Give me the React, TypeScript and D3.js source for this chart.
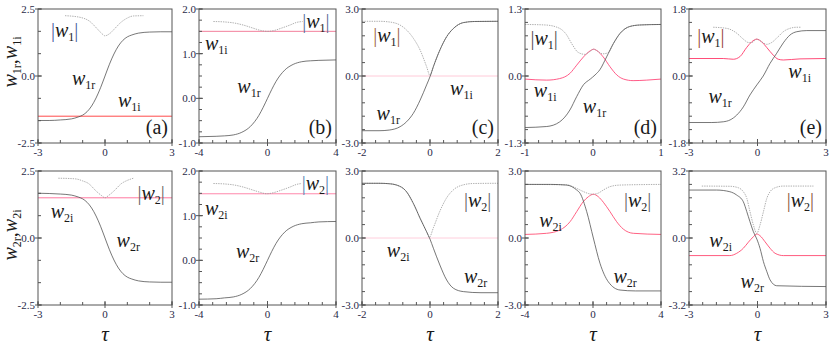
import React from "react";
import * as d3 from "d3";

type Pt = [number, number];

// ---- top row: w1 (real part, imaginary part, modulus) ----
const aW1r: Pt[] = [[-3, -1.66], [-2.5, -1.66], [-2, -1.64], [-1.5, -1.6], [-1.2, -1.53], [-1, -1.46], [-0.8, -1.33], [-0.6, -1.12], [-0.4, -0.82], [-0.2, -0.44], [0, 0], [0.2, 0.44], [0.4, 0.82], [0.6, 1.12], [0.8, 1.33], [1, 1.46], [1.2, 1.53], [1.5, 1.6], [2, 1.64], [2.5, 1.65], [3, 1.65]];
const aW1i: Pt[] = [[-3, -1.5], [3, -1.5]];
const aAbs1: Pt[] = [[-1.79, 2.25], [-1.12, 2.19], [-0.67, 2.03], [-0.37, 1.78], [-0.15, 1.59], [0, 1.5], [0.22, 1.59], [0.45, 1.78], [0.67, 1.97], [0.97, 2.15], [1.27, 2.24], [1.72, 2.25]];

const bW1r: Pt[] = [[-4, -0.86], [-3, -0.85], [-2.5, -0.84], [-2, -0.82], [-1.5, -0.76], [-1, -0.63], [-0.5, -0.38], [-0.25, -0.2], [0, 0], [0.25, 0.2], [0.5, 0.38], [1, 0.63], [1.5, 0.76], [2, 0.82], [2.5, 0.84], [3, 0.85], [4, 0.86]];
const bW1i: Pt[] = [[-4, 1.5], [4, 1.5]];
const bAbs1: Pt[] = [[-3.16, 1.72], [-2.5, 1.71], [-2, 1.69], [-1.41, 1.64], [-0.83, 1.57], [-0.4, 1.52], [0, 1.5], [0.4, 1.52], [0.8, 1.57], [1.31, 1.64], [1.7, 1.7], [2.05, 1.72]];

const cW1r: Pt[] = [[-2, -2.45], [-1.5, -2.45], [-1.2, -2.42], [-0.88, -2.27], [-0.69, -2.05], [-0.49, -1.67], [-0.29, -1.08], [-0.1, -0.4], [0, -0.03], [0.1, 0.42], [0.29, 1.16], [0.49, 1.76], [0.69, 2.13], [0.98, 2.39], [1.3, 2.44], [2, 2.45]];
const cW1i: Pt[] = [[-2, 0], [2, 0]];
const cAbs1: Pt[] = [[-2, 2.45], [-1.5, 2.45], [-1.2, 2.42], [-0.88, 2.28], [-0.69, 2.06], [-0.49, 1.69], [-0.29, 1.16], [-0.1, 0.42], [0, 0.02], [0.1, 0.42], [0.29, 1.16], [0.49, 1.76], [0.69, 2.13], [0.98, 2.39], [1.3, 2.44], [2, 2.45]];

const dW1r: Pt[] = [[-1, -1.0], [-0.68, -0.98], [-0.49, -0.89], [-0.34, -0.66], [-0.24, -0.4], [-0.14, -0.17], [-0.04, -0.06], [0.03, 0.02], [0.1, 0.12], [0.2, 0.37], [0.3, 0.63], [0.4, 0.83], [0.54, 0.96], [0.69, 0.99], [1, 1.0]];
const dW1i: Pt[] = [[-1, -0.06], [-0.68, -0.08], [-0.49, -0.05], [-0.34, 0.05], [-0.24, 0.21], [-0.14, 0.37], [-0.04, 0.49], [0.01, 0.52], [0.06, 0.49], [0.15, 0.37], [0.25, 0.18], [0.35, 0.02], [0.45, -0.06], [0.59, -0.09], [0.79, -0.08], [1, -0.06]];
const dAbs1: Pt[] = [[-1, 1.0], [-0.7, 0.99], [-0.5, 0.93], [-0.4, 0.82], [-0.3, 0.6], [-0.22, 0.46], [-0.12, 0.42], [-0.04, 0.48], [0.01, 0.52], [0.07, 0.48], [0.14, 0.43], [0.22, 0.45], [0.3, 0.63], [0.4, 0.83], [0.54, 0.96], [0.7, 0.99], [1, 1.0]];

const eW1r: Pt[] = [[-3, -1.25], [-2, -1.25], [-1.5, -1.23], [-1.2, -1.18], [-0.91, -1.05], [-0.62, -0.83], [-0.33, -0.51], [-0.03, -0.24], [0.25, 0.0], [0.55, 0.34], [0.84, 0.61], [1.13, 0.89], [1.42, 1.1], [1.72, 1.19], [2.16, 1.22], [3, 1.22]];
const eW1i: Pt[] = [[-3, 0.47], [-1.5, 0.47], [-1.06, 0.45], [-0.77, 0.52], [-0.47, 0.77], [-0.25, 0.92], [-0.03, 0.99], [0.18, 0.92], [0.4, 0.77], [0.69, 0.56], [0.91, 0.45], [1.13, 0.43], [1.86, 0.46], [3, 0.47]];
const eAbs1: Pt[] = [[-1.94, 1.31], [-1.35, 1.28], [-0.91, 1.15], [-0.62, 0.99], [-0.4, 0.9], [-0.25, 0.9], [-0.03, 0.99], [0.18, 0.92], [0.4, 0.85], [0.62, 0.9], [0.91, 1.06], [1.13, 1.19], [1.42, 1.28], [1.72, 1.31], [1.9, 1.31]];

// ---- bottom row: w2 ----
const a2W2r: Pt[] = [[-3, 1.67], [-2.5, 1.66], [-2, 1.64], [-1.5, 1.6], [-1.2, 1.53], [-1, 1.46], [-0.8, 1.33], [-0.6, 1.12], [-0.4, 0.82], [-0.2, 0.44], [0, 0], [0.2, -0.44], [0.4, -0.82], [0.6, -1.12], [0.8, -1.33], [1, -1.46], [1.2, -1.53], [1.5, -1.6], [2, -1.64], [2.5, -1.65], [3, -1.65]];
const a2W2i: Pt[] = [[-3, 1.5], [3, 1.5]];
const a2Abs2: Pt[] = [[-2.09, 2.23], [-1.6, 2.22], [-1.27, 2.2], [-1, 2.13], [-0.75, 2.04], [-0.37, 1.73], [-0.15, 1.58], [0, 1.5], [0.15, 1.58], [0.37, 1.73], [0.75, 2.04], [1, 2.15], [1.27, 2.23]];

const b2W2r: Pt[] = [[-4, -0.87], [-3, -0.86], [-2.5, -0.84], [-2, -0.82], [-1.5, -0.76], [-1, -0.63], [-0.5, -0.38], [-0.25, -0.2], [0, 0], [0.25, 0.2], [0.5, 0.38], [1, 0.63], [1.5, 0.76], [2, 0.82], [2.5, 0.84], [3, 0.86], [4, 0.87]];
const b2W2i: Pt[] = [[-4, 1.49], [4, 1.49]];
const b2Abs2: Pt[] = [[-3.16, 1.72], [-2.5, 1.71], [-2, 1.69], [-1.41, 1.64], [-0.83, 1.57], [-0.4, 1.52], [-0.05, 1.49], [0.4, 1.52], [0.8, 1.57], [1.31, 1.64], [1.7, 1.7], [2.0, 1.72]];

const c2W2r: Pt[] = [[-2, 2.45], [-1.5, 2.45], [-1.2, 2.43], [-0.98, 2.37], [-0.69, 2.07], [-0.49, 1.55], [-0.29, 0.88], [-0.1, 0.28], [0, -0.05], [0.1, -0.46], [0.29, -1.21], [0.49, -1.88], [0.69, -2.25], [0.98, -2.4], [1.5, -2.45], [2, -2.45]];
const c2W2i: Pt[] = [[-2, 0], [2, 0]];
const c2Abs2: Pt[] = [[-2, 2.45], [-1.5, 2.45], [-1.2, 2.43], [-0.98, 2.37], [-0.69, 2.07], [-0.49, 1.55], [-0.29, 0.88], [-0.1, 0.28], [-0.02, 0.03], [0.1, 0.46], [0.29, 1.2], [0.49, 1.8], [0.69, 2.16], [0.98, 2.38], [1.27, 2.44], [2, 2.45]];

const d2W2r: Pt[] = [[-4, 2.4], [-2.5, 2.4], [-1.55, 2.37], [-0.96, 2.15], [-0.76, 2.0], [-0.37, 1.18], [0.02, 0], [0.41, -1.13], [0.9, -1.96], [1.59, -2.33], [2.5, -2.37], [4, -2.37]];
const d2W2i: Pt[] = [[-4, 0.16], [-2.73, 0.21], [-1.94, 0.36], [-1.35, 0.73], [-0.96, 1.18], [-0.57, 1.63], [-0.27, 1.85], [0.02, 1.96], [0.31, 1.85], [0.61, 1.6], [1.0, 1.18], [1.39, 0.73], [1.78, 0.4], [2.37, 0.21], [4, 0.16]];
const d2Abs2: Pt[] = [[-4, 2.4], [-1.55, 2.38], [-0.96, 2.22], [-0.57, 2.08], [-0.27, 1.99], [0.02, 1.96], [0.31, 2.01], [0.61, 2.15], [1.0, 2.3], [1.59, 2.37], [4, 2.4]];

const e2W2r: Pt[] = [[-3, 2.29], [-1.79, 2.29], [-1.21, 2.21], [-0.91, 2.05], [-0.62, 1.73], [-0.47, 1.26], [-0.33, 0.78], [-0.18, 0.3], [-0.03, -0.05], [0.11, -0.49], [0.26, -1.13], [0.41, -1.61], [0.55, -2.0], [0.84, -2.28], [3, -2.32]];
const e2W2i: Pt[] = [[-3, -0.84], [-1.21, -0.84], [-0.91, -0.73], [-0.62, -0.49], [-0.4, -0.2], [-0.18, 0.06], [-0.03, 0.19], [0.11, 0.11], [0.33, -0.18], [0.55, -0.49], [0.77, -0.73], [1.13, -0.84], [3, -0.84]];
const e2Abs2: Pt[] = [[-2.44, 2.48], [-1.2, 2.47], [-0.84, 2.4], [-0.62, 2.21], [-0.47, 1.9], [-0.33, 1.26], [-0.18, 0.62], [-0.03, 0.22], [0.11, 0.62], [0.26, 1.26], [0.41, 1.9], [0.55, 2.21], [0.77, 2.4], [1.13, 2.48], [2.45, 2.48]];

// tick labels
const xTicksTop = [["-3", "0", "3"], ["-4", "0", "4"], ["-2", "0", "2"], ["-1", "0", "1"], ["-3", "0", "3"]];
const xTicksBottom = [["-3", "0", "3"], ["-4", "0", "4"], ["-2", "0", "2"], ["-4", "0", "4"], ["-3", "0", "3"]];
const yTicksTop = [["-2.5", "0.0", "2.5"], ["-1.0", "0.0", "1.0", "2.0"], ["-3.0", "0.0", "3.0"], ["-1.3", "0.0", "1.3"], ["-1.8", "0.0", "1.8"]];
const yTicksBottom = [["-2.5", "0.0", "2.5"], ["-1.0", "0.0", "1.0", "2.0"], ["-3.0", "0.0", "3.0"], ["-3.0", "0.0", "3.0"], ["-3.2", "0.0", "3.2"]];
const tags = ["(a)", "(b)", "(c)", "(d)", "(e)"];

// layout
const W = 831;
const H = 345;
const colLeft = [38, 199, 362, 525, 689];
const colRight = [172, 336, 498, 661, 826];
const rowTop = [9, 171];
const rowBottom = [143, 305];
const serif = "Liberation Serif, Times New Roman, DejaVu Serif, serif";

type Panel = {
  col: number;
  row: number;
  xt: string[];
  yt: string[];
  xStep: number;
  yStep: number;
  re: Pt[];
  im: Pt[];
  abs: Pt[];
  imColor: string;
  barColor: string;
  labRe: Pt;
  labIm: Pt;
  labAbs: Pt;
};

const panels: Panel[] = [
  { col: 0, row: 0, xt: xTicksTop[0], yt: yTicksTop[0], xStep: 1, yStep: 2.5 / 3, re: aW1r, im: aW1i, abs: aAbs1, imColor: "#ff3535", barColor: "#4a5fa0", labRe: [-1.48, -0.34], labIm: [0.58, -1.16], labAbs: [-2.42, 1.46] },
  { col: 1, row: 0, xt: xTicksTop[1], yt: yTicksTop[1], xStep: 0.8, yStep: 0.25, re: bW1r, im: bW1i, abs: bAbs1, imColor: "#f07090", barColor: "#5a6f9a", labRe: [-1.76, 0.11], labIm: [-3.65, 1.08], labAbs: [2.03, 1.57] },
  { col: 2, row: 0, xt: xTicksTop[2], yt: yTicksTop[2], xStep: 0.4, yStep: 0.6, re: cW1r, im: cW1i, abs: cAbs1, imColor: "#ffc4d4", barColor: "#a06848", labRe: [-1.57, -1.97], labIm: [0.59, -0.85], labAbs: [-1.67, 1.52] },
  { col: 3, row: 0, xt: xTicksTop[3], yt: yTicksTop[3], xStep: 0.2, yStep: 0.26, re: dW1r, im: dW1i, abs: dAbs1, imColor: "#ff4a7a", barColor: "#555", labRe: [-0.15, -0.72], labIm: [-0.87, -0.4], labAbs: [-0.92, 0.6] },
  { col: 4, row: 0, xt: xTicksTop[4], yt: yTicksTop[4], xStep: 0.6, yStep: 0.36, re: eW1r, im: eW1i, abs: eAbs1, imColor: "#ff3a6a", barColor: "#9a4a3a", labRe: [-2.15, -0.73], labIm: [1.35, -0.06], labAbs: [-2.64, 0.88] },
  { col: 0, row: 1, xt: xTicksBottom[0], yt: yTicksBottom[0], xStep: 1, yStep: 2.5 / 3, re: a2W2r, im: a2W2i, abs: a2Abs2, imColor: "#ff6a95", barColor: "#666", labRe: [0.52, -0.32], labIm: [-2.43, 0.73], labAbs: [1.45, 1.42] },
  { col: 1, row: 1, xt: xTicksBottom[1], yt: yTicksBottom[1], xStep: 0.8, yStep: 0.25, re: b2W2r, im: b2W2i, abs: b2Abs2, imColor: "#ff7aa2", barColor: "#5a85b5", labRe: [-1.84, 0.05], labIm: [-3.65, 1.01], labAbs: [2.0, 1.57] },
  { col: 2, row: 1, xt: xTicksBottom[2], yt: yTicksBottom[2], xStep: 0.4, yStep: 0.6, re: c2W2r, im: c2W2i, abs: c2Abs2, imColor: "#ffc8d8", barColor: "#666", labRe: [1.0, -2.03], labIm: [-1.27, -0.84], labAbs: [1.0, 1.4] },
  { col: 3, row: 1, xt: xTicksBottom[3], yt: yTicksBottom[3], xStep: 0.8, yStep: 0.6, re: d2W2r, im: d2W2i, abs: d2Abs2, imColor: "#ff5075", barColor: "#666", labRe: [1.2, -2.03], labIm: [-3.16, 0.51], labAbs: [1.82, 1.4] },
  { col: 4, row: 1, xt: xTicksBottom[4], yt: yTicksBottom[4], xStep: 0.6, yStep: 0.64, re: e2W2r, im: e2W2i, abs: e2Abs2, imColor: "#ff4a70", barColor: "#8a5a3a", labRe: [-0.74, -2.4], labIm: [-2.11, -0.41], labAbs: [1.28, 1.5] },
];

const txt = { fontFamily: serif };

const WName = ({ x, y, sub }: { x: number; y: number; sub: string }) => (
  <text x={x} y={y} style={{ ...txt, fontSize: 20 }} fill="#1a1a1a">
    <tspan style={{ fontStyle: "italic" }}>w</tspan>
    <tspan style={{ fontSize: 12 }} dy={4}>{sub}</tspan>
  </text>
);

const AbsName = ({ x, y, sub, bar }: { x: number; y: number; sub: string; bar: string }) => (
  <text x={x} y={y} style={{ ...txt, fontSize: 20 }} fill="#1a1a1a">
    <tspan fill={bar}>|</tspan>
    <tspan style={{ fontStyle: "italic" }}>w</tspan>
    <tspan style={{ fontSize: 12 }} dy={4}>{sub}</tspan>
    <tspan dy={-4} fill={bar}>|</tspan>
  </text>
);

const PanelView = ({ p }: { p: Panel }) => {
  const x0 = colLeft[p.col];
  const x1 = colRight[p.col];
  const y0 = rowTop[p.row];
  const y1 = rowBottom[p.row];
  const xv = p.xt.map(Number);
  const yv = p.yt.map(Number);
  const x = d3.scaleLinear().domain([xv[0], xv[xv.length - 1]]).range([x0, x1]);
  const y = d3.scaleLinear().domain([yv[0], yv[yv.length - 1]]).range([y1, y0]);
  const line = d3
    .line<Pt>()
    .x((d) => x(d[0]))
    .y((d) => y(d[1]))
    .curve(d3.curveMonotoneX);
  const [xa, xb] = x.domain();
  const [ya, yb] = y.domain();
  const xMinor = d3.range(0, xb + 1e-6, p.xStep).concat(d3.range(-p.xStep, xa - 1e-6, -p.xStep));
  const yMinor = d3.range(0, yb + 1e-6, p.yStep).concat(d3.range(-p.yStep, ya - 1e-6, -p.yStep));
  const n = p.row === 0 ? "1" : "2";
  return (
    <g>
      <path d={line(p.im) || ""} fill="none" stroke={p.imColor} strokeWidth={0.9} />
      <path d={line(p.abs) || ""} fill="none" stroke="#9a9a9a" strokeWidth={0.8} strokeDasharray="1.4 1" />
      <path d={line(p.re) || ""} fill="none" stroke="#4a4a4a" strokeWidth={0.75} />
      <rect x={x0} y={y0} width={x1 - x0} height={y1 - y0} fill="none" stroke="#555" strokeWidth={1} />
      {xMinor.map((t, k) => (
        <line key={"xm" + k} x1={x(t)} x2={x(t)} y1={y1} y2={y1 - 3} stroke="#555" />
      ))}
      {yMinor.map((t, k) => (
        <line key={"ym" + k} x1={x0} x2={x0 + 3} y1={y(t)} y2={y(t)} stroke="#555" />
      ))}
      {xv.map((t, k) => (
        <g key={"xt" + k}>
          <line x1={x(t)} x2={x(t)} y1={y1 - 4} y2={y1 + 3} stroke="#555" />
          <text x={x(t)} y={y1 + 13} textAnchor="middle" style={{ ...txt, fontSize: 11 }} fill="#2a2a48">
            {p.xt[k]}
          </text>
        </g>
      ))}
      {yv.map((t, k) => (
        <g key={"yt" + k}>
          <line x1={x0 - 3} x2={x0 + 4} y1={y(t)} y2={y(t)} stroke="#555" />
          <text x={x0 - 3} y={y(t) + 4} textAnchor="end" style={{ ...txt, fontSize: 11 }} fill="#2a2a48">
            {p.yt[k]}
          </text>
        </g>
      ))}
      <WName x={x(p.labRe[0])} y={y(p.labRe[1])} sub={n + "r"} />
      <WName x={x(p.labIm[0])} y={y(p.labIm[1])} sub={n + "i"} />
      <AbsName x={x(p.labAbs[0])} y={y(p.labAbs[1])} sub={n} bar={p.barColor} />
      {p.row === 0 && (
        <text x={x1 - 4} y={y1 - 9} textAnchor="end" style={{ ...txt, fontSize: 20 }} fill="#1a1a1a">
          {tags[p.col]}
        </text>
      )}
      {p.row === 1 && (
        <text x={(x0 + x1) / 2} y={341} textAnchor="middle" style={{ ...txt, fontSize: 21, fontStyle: "italic" }} fill="#1a1a1a">
          τ
        </text>
      )}
    </g>
  );
};

const AxisTitle = ({ cy, n }: { cy: number; n: string }) => (
  <text transform={`translate(17,${cy}) rotate(-90)`} textAnchor="middle" style={{ ...txt, fontSize: 20 }} fill="#1a1a1a">
    <tspan style={{ fontStyle: "italic" }}>w</tspan>
    <tspan style={{ fontSize: 12 }} dy={4}>{n + "r"}</tspan>
    <tspan dy={-4}>,</tspan>
    <tspan style={{ fontStyle: "italic" }}>w</tspan>
    <tspan style={{ fontSize: 12 }} dy={4}>{n + "i"}</tspan>
  </text>
);

const App = () => (
  <svg width={W} height={H} viewBox={`0 0 ${W} ${H}`} style={{ position: "absolute", left: 0, top: 0, background: "#fff" }}>
    {panels.map((p, i) => (
      <PanelView key={i} p={p} />
    ))}
    <AxisTitle cy={62} n="1" />
    <AxisTitle cy={235} n="2" />
  </svg>
);

export default App;
